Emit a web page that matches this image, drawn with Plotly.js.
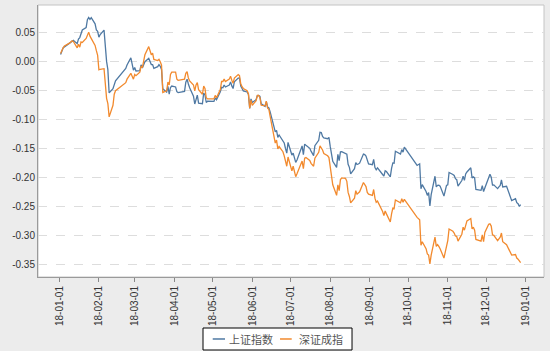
<!DOCTYPE html>
<html><head><meta charset="utf-8">
<script src="https://cdn.plot.ly/plotly-3.0.1.min.js"></script>
<style>html,body{margin:0;padding:0;background:#ececec;}#chart{width:550px;height:351px;}</style>
</head><body><div id="chart"></div>
<script>
const dates = ["2018-01-02","2018-01-03","2018-01-04","2018-01-05","2018-01-08","2018-01-09","2018-01-10","2018-01-11","2018-01-12","2018-01-15","2018-01-16","2018-01-17","2018-01-18","2018-01-19","2018-01-22","2018-01-23","2018-01-24","2018-01-25","2018-01-26","2018-01-29","2018-01-30","2018-01-31","2018-02-01","2018-02-02","2018-02-05","2018-02-06","2018-02-07","2018-02-08","2018-02-09","2018-02-12","2018-02-13","2018-02-14","2018-02-22","2018-02-23","2018-02-26","2018-02-27","2018-02-28","2018-03-01","2018-03-02","2018-03-05","2018-03-06","2018-03-07","2018-03-08","2018-03-09","2018-03-12","2018-03-13","2018-03-14","2018-03-15","2018-03-16","2018-03-19","2018-03-20","2018-03-21","2018-03-22","2018-03-23","2018-03-26","2018-03-27","2018-03-28","2018-03-29","2018-03-30","2018-04-02","2018-04-03","2018-04-04","2018-04-09","2018-04-10","2018-04-11","2018-04-12","2018-04-13","2018-04-16","2018-04-17","2018-04-18","2018-04-19","2018-04-20","2018-04-23","2018-04-24","2018-04-25","2018-04-26","2018-04-27","2018-05-02","2018-05-03","2018-05-04","2018-05-07","2018-05-08","2018-05-09","2018-05-10","2018-05-11","2018-05-14","2018-05-15","2018-05-16","2018-05-17","2018-05-18","2018-05-21","2018-05-22","2018-05-23","2018-05-24","2018-05-25","2018-05-28","2018-05-29","2018-05-30","2018-05-31","2018-06-01","2018-06-04","2018-06-05","2018-06-06","2018-06-07","2018-06-08","2018-06-11","2018-06-12","2018-06-13","2018-06-14","2018-06-15","2018-06-19","2018-06-20","2018-06-21","2018-06-22","2018-06-25","2018-06-26","2018-06-27","2018-06-28","2018-06-29","2018-07-02","2018-07-03","2018-07-04","2018-07-05","2018-07-06","2018-07-09","2018-07-10","2018-07-11","2018-07-12","2018-07-13","2018-07-16","2018-07-17","2018-07-18","2018-07-19","2018-07-20","2018-07-23","2018-07-24","2018-07-25","2018-07-26","2018-07-27","2018-07-30","2018-07-31","2018-08-01","2018-08-02","2018-08-03","2018-08-06","2018-08-07","2018-08-08","2018-08-09","2018-08-10","2018-08-13","2018-08-14","2018-08-15","2018-08-16","2018-08-17","2018-08-20","2018-08-21","2018-08-22","2018-08-23","2018-08-24","2018-08-27","2018-08-28","2018-08-29","2018-08-30","2018-08-31","2018-09-03","2018-09-04","2018-09-05","2018-09-06","2018-09-07","2018-09-10","2018-09-11","2018-09-12","2018-09-13","2018-09-14","2018-09-17","2018-09-18","2018-09-19","2018-09-20","2018-09-21","2018-09-25","2018-09-26","2018-09-27","2018-09-28","2018-10-08","2018-10-09","2018-10-10","2018-10-11","2018-10-12","2018-10-15","2018-10-16","2018-10-17","2018-10-18","2018-10-19","2018-10-22","2018-10-23","2018-10-24","2018-10-25","2018-10-26","2018-10-29","2018-10-30","2018-10-31","2018-11-01","2018-11-02","2018-11-05","2018-11-06","2018-11-07","2018-11-08","2018-11-09","2018-11-12","2018-11-13","2018-11-14","2018-11-15","2018-11-16","2018-11-19","2018-11-20","2018-11-21","2018-11-22","2018-11-23","2018-11-26","2018-11-27","2018-11-28","2018-11-29","2018-11-30","2018-12-03","2018-12-04","2018-12-05","2018-12-06","2018-12-07","2018-12-10","2018-12-11","2018-12-12","2018-12-13","2018-12-14","2018-12-17","2018-12-18","2018-12-19","2018-12-20","2018-12-21","2018-12-24","2018-12-25","2018-12-26","2018-12-27","2018-12-28"];

const shIndex = [0.0125,0.0187,0.0237,0.0256,0.0309,0.0323,0.0347,0.0357,0.0368,0.0312,0.0391,0.0416,0.0507,0.0546,0.0587,0.0724,0.0763,0.0729,0.0759,0.0653,0.0547,0.0525,0.0423,0.0468,0.0545,0.0192,0.0006,-0.0136,-0.0536,-0.0463,-0.0370,-0.0327,-0.0117,-0.0055,0.0068,-0.0046,-0.0144,-0.0101,-0.0159,-0.0152,-0.0053,-0.0107,-0.0057,0.0000,0.0059,0.0009,-0.0048,-0.0049,-0.0113,-0.0084,-0.0050,-0.0079,-0.0132,-0.0467,-0.0524,-0.0425,-0.0559,-0.0443,-0.0418,-0.0435,-0.0516,-0.0532,-0.0511,-0.0353,-0.0300,-0.0384,-0.0448,-0.0594,-0.0727,-0.0652,-0.0574,-0.0712,-0.0723,-0.0539,-0.0572,-0.0702,-0.0680,-0.0683,-0.0624,-0.0654,-0.0516,-0.0440,-0.0448,-0.0401,-0.0435,-0.0403,-0.0348,-0.0416,-0.0462,-0.0344,-0.0282,-0.0281,-0.0418,-0.0461,-0.0502,-0.0520,-0.0565,-0.0803,-0.0640,-0.0702,-0.0653,-0.0583,-0.0581,-0.0598,-0.0726,-0.0769,-0.0687,-0.0778,-0.0795,-0.0863,-0.1208,-0.1184,-0.1304,-0.1262,-0.1354,-0.1399,-0.1494,-0.1573,-0.1390,-0.1607,-0.1573,-0.1657,-0.1734,-0.1693,-0.1488,-0.1450,-0.1601,-0.1420,-0.1439,-0.1491,-0.1539,-0.1572,-0.1617,-0.1445,-0.1354,-0.1214,-0.1220,-0.1285,-0.1311,-0.1325,-0.1303,-0.1459,-0.1630,-0.1714,-0.1820,-0.1596,-0.1703,-0.1551,-0.1548,-0.1576,-0.1591,-0.1766,-0.1819,-0.1930,-0.1841,-0.1736,-0.1768,-0.1761,-0.1747,-0.1591,-0.1600,-0.1626,-0.1722,-0.1760,-0.1773,-0.1683,-0.1823,-0.1861,-0.1829,-0.1928,-0.1942,-0.1969,-0.1877,-0.1891,-0.1982,-0.1836,-0.1743,-0.1748,-0.1541,-0.1591,-0.1513,-0.1558,-0.1469,-0.1786,-0.1772,-0.1758,-0.2188,-0.2117,-0.2235,-0.2301,-0.2254,-0.2482,-0.2288,-0.1972,-0.2154,-0.2128,-0.2127,-0.2142,-0.2313,-0.2235,-0.2130,-0.2119,-0.1907,-0.1941,-0.1959,-0.2013,-0.2031,-0.2142,-0.2046,-0.1972,-0.2041,-0.1932,-0.1899,-0.1825,-0.2000,-0.1983,-0.2001,-0.2200,-0.2211,-0.2215,-0.2133,-0.2237,-0.2174,-0.1973,-0.1939,-0.1988,-0.2123,-0.2120,-0.2185,-0.2156,-0.2132,-0.2035,-0.2157,-0.2144,-0.2209,-0.2291,-0.2331,-0.2392,-0.2359,-0.2426,-0.2446,-0.2492,-0.2459];

const szIndex = [0.014,0.020,0.024,0.027,0.030,0.032,0.034,0.036,0.035,0.024,0.030,0.025,0.034,0.033,0.040,0.047,0.051,0.044,0.040,0.028,0.019,0.011,-0.014,-0.013,-0.012,-0.042,-0.063,-0.072,-0.095,-0.075,-0.056,-0.050,-0.036,-0.030,-0.020,-0.025,-0.030,-0.022,-0.024,-0.018,-0.008,-0.010,0.002,0.012,0.026,0.018,0.012,0.015,0.004,0.002,0.004,0.000,-0.006,-0.053,-0.050,-0.035,-0.040,-0.022,-0.018,-0.018,-0.030,-0.032,-0.030,-0.020,-0.017,-0.028,-0.033,-0.040,-0.050,-0.040,-0.036,-0.048,-0.056,-0.042,-0.046,-0.062,-0.064,-0.064,-0.058,-0.062,-0.048,-0.034,-0.034,-0.030,-0.034,-0.030,-0.025,-0.032,-0.037,-0.028,-0.022,-0.024,-0.038,-0.043,-0.046,-0.050,-0.055,-0.080,-0.066,-0.075,-0.067,-0.058,-0.058,-0.062,-0.075,-0.076,-0.068,-0.080,-0.082,-0.094,-0.140,-0.135,-0.150,-0.146,-0.155,-0.162,-0.172,-0.180,-0.164,-0.188,-0.180,-0.190,-0.198,-0.193,-0.178,-0.171,-0.184,-0.166,-0.165,-0.170,-0.175,-0.178,-0.180,-0.166,-0.156,-0.145,-0.148,-0.152,-0.158,-0.162,-0.165,-0.182,-0.205,-0.212,-0.230,-0.212,-0.222,-0.203,-0.200,-0.201,-0.206,-0.225,-0.232,-0.243,-0.235,-0.222,-0.228,-0.225,-0.224,-0.208,-0.212,-0.215,-0.225,-0.228,-0.230,-0.220,-0.235,-0.242,-0.240,-0.252,-0.258,-0.265,-0.257,-0.262,-0.276,-0.262,-0.252,-0.253,-0.238,-0.243,-0.236,-0.242,-0.237,-0.268,-0.270,-0.272,-0.316,-0.310,-0.322,-0.331,-0.333,-0.348,-0.333,-0.302,-0.318,-0.315,-0.318,-0.322,-0.338,-0.328,-0.315,-0.308,-0.288,-0.292,-0.295,-0.300,-0.301,-0.309,-0.297,-0.285,-0.290,-0.280,-0.274,-0.270,-0.288,-0.285,-0.290,-0.306,-0.308,-0.309,-0.298,-0.310,-0.294,-0.280,-0.279,-0.283,-0.298,-0.299,-0.308,-0.305,-0.302,-0.295,-0.310,-0.315,-0.320,-0.322,-0.328,-0.333,-0.332,-0.338,-0.340,-0.344,-0.346];

const seriesNames = ["上证指数", "深证成指"];
const seriesColors = ["#4f79a3", "#f28a2e"];
const yTickVals = [0.05, 0.00, -0.05, -0.10, -0.15, -0.20, -0.25, -0.30, -0.35];
const yTickText = ["0.05", "0.00", "-0.05", "-0.10", "-0.15", "-0.20", "-0.25", "-0.30", "-0.35"];

const traces = [
  {x: dates, y: shIndex, name: seriesNames[0], type: "scatter", mode: "lines",
   line: {color: seriesColors[0], width: 1.3}},
  {x: dates, y: szIndex, name: seriesNames[1], type: "scatter", mode: "lines",
   line: {color: seriesColors[1], width: 1.3}}
];

// legend drawn as a framed box below the plot (paper coordinates)
const legY = -0.2279;
const legendShapes = [
  {type: "rect", xref: "paper", yref: "paper", x0: 0.3261, x1: 0.6206, y0: -0.1875, y1: -0.2684,
   line: {color: "#000000", width: 1}, fillcolor: "#ffffff"},
  {type: "line", xref: "paper", yref: "paper", x0: 0.3453, x1: 0.3696, y0: legY, y1: legY,
   line: {color: seriesColors[0], width: 1.5}},
  {type: "line", xref: "paper", yref: "paper", x0: 0.4783, x1: 0.5014, y0: legY, y1: legY,
   line: {color: seriesColors[1], width: 1.5}}
];
const legendText = [
  {xref: "paper", yref: "paper", x: 0.3729, y: legY, xanchor: "left", yanchor: "middle",
   text: seriesNames[0], showarrow: false,
   font: {family: "Noto Sans CJK SC, sans-serif", size: 11, color: "#555555"}},
  {xref: "paper", yref: "paper", x: 0.5113, y: legY, xanchor: "left", yanchor: "middle",
   text: seriesNames[1], showarrow: false,
   font: {family: "Noto Sans CJK SC, sans-serif", size: 11, color: "#555555"}}
];

const layout = {
  width: 550, height: 351,
  margin: {l: 38, r: 6, t: 5, b: 74, autoexpand: false},
  paper_bgcolor: "#ececec",
  plot_bgcolor: "#ffffff",
  font: {family: "Liberation Sans, Arial, sans-serif", size: 10, color: "#333333"},
  showlegend: false,
  xaxis: {
    type: "date",
    range: ["2017-12-15 08:00", "2019-01-15 07:00"],
    tick0: "2018-01-01", dtick: "M1", tickformat: "%y-%m-%d",
    tickangle: -90, ticks: "outside", ticklen: 4, tickcolor: "#888888",
    showgrid: false, zeroline: false, automargin: false,
    showline: true, linecolor: "#9a9a9a", linewidth: 1,
    tickfont: {size: 10, color: "#333333"}
  },
  yaxis: {
    range: [-0.3707, 0.0977], automargin: false,
    tickvals: yTickVals, ticktext: yTickText,
    ticks: "", showgrid: true, gridcolor: "#dddddd", griddash: "dash", gridwidth: 1,
    zeroline: false, showline: true, linecolor: "#9a9a9a", linewidth: 1,
    tickfont: {size: 10, color: "#333333"}
  },
  shapes: [
    {type: "rect", xref: "paper", yref: "paper", x0: 0, x1: 1, y0: 0, y1: 1,
     line: {color: "#c4c4c4", width: 1}, fillcolor: "rgba(0,0,0,0)", layer: "below"}
  ].concat(legendShapes),
  annotations: legendText
};

Plotly.newPlot("chart", traces, layout, {displayModeBar: false, staticPlot: true});
</script></body></html>
